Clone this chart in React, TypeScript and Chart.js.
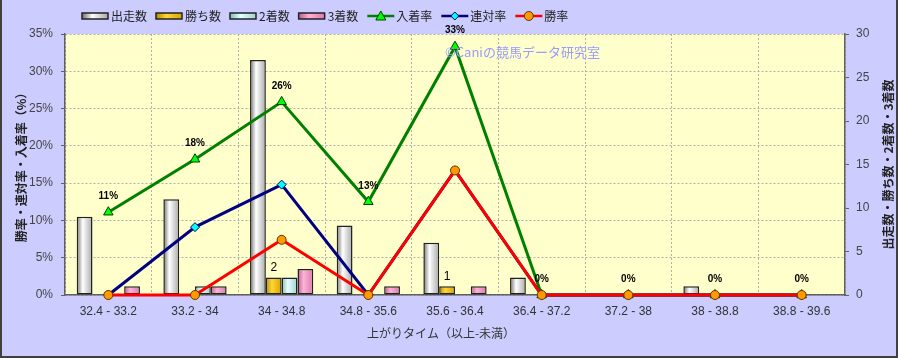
import React, { useEffect, useRef } from "react";
import { Chart, registerables } from "chart.js";

Chart.register(...registerables);

const categories = [
  "32.4 - 33.2",
  "33.2 - 34",
  "34 - 34.8",
  "34.8 - 35.6",
  "35.6 - 36.4",
  "36.4 - 37.2",
  "37.2 - 38",
  "38 - 38.8",
  "38.8 - 39.6",
];
const runners = [9, 11, 27, 8, 6, 2, 0, 1, 0];
const wins = [0, 0, 2, 0, 1, 0, 0, 0, 0];
const seconds = [0, 1, 2, 0, 0, 0, 0, 0, 0];
const thirds = [1, 1, 3, 1, 1, 0, 0, 0, 0];
const placeRate = [11.1, 18.2, 25.9, 12.5, 33.3, 0, 0, 0, 0];
const quinellaRate = [0, 9.1, 14.8, 0, 16.7, 0, 0, 0, 0];
const winRate = [0, 0, 7.4, 0, 16.7, 0, 0, 0, 0];
const leftTicks = [0, 5, 10, 15, 20, 25, 30, 35];
const rightTicks = [0, 5, 10, 15, 20, 25, 30];

const CAT_PCT = 0.73;
const FONT_LAT = "'Liberation Sans', 'Noto Sans CJK JP', sans-serif";
const FONT_JP = "'Noto Sans CJK JP', 'Liberation Sans', sans-serif";

const barStyles = [
  { dark: "#707070", light: "#ffffff", mid: "#a8a8a8", flat: "#dddddd" },
  { dark: "#b88a00", light: "#ffd633", mid: "#d9a400", flat: "#ffcc00" },
  { dark: "#7fb8b8", light: "#e6ffff", mid: "#9fd0d0", flat: "#ccffff" },
  { dark: "#b85c8a", light: "#ffb3d9", mid: "#d97aab", flat: "#ff99cc" },
];

function makeGrad(ctx: any, k: number) {
  const st = barStyles[k];
  const chart = ctx.chart;
  const xs = chart.scales && chart.scales.x;
  if (!xs || ctx.type !== "data" || !xs.width) return st.flat;
  const center = xs.getPixelForValue(ctx.dataIndex);
  const catW = xs.width / categories.length;
  const barW = (catW * CAT_PCT) / 4;
  const left = center - (catW * CAT_PCT) / 2 + k * barW;
  const g = chart.ctx.createLinearGradient(left, 0, left + barW, 0);
  g.addColorStop(0, st.dark);
  g.addColorStop(0.38, st.light);
  g.addColorStop(1, st.mid);
  return g;
}

const nz = (a: number[]) => a.map((v) => (v === 0 ? null : v));

const legendItems = [
  { label: "出走数", type: "bar", k: 0 },
  { label: "勝ち数", type: "bar", k: 1 },
  { label: "2着数", type: "bar", k: 2 },
  { label: "3着数", type: "bar", k: 3 },
  { label: "入着率", type: "line", color: "#008000", fill: "#00ff00", stroke: "#004000", style: "tri" },
  { label: "連対率", type: "line", color: "#000080", fill: "#00ffff", stroke: "#000060", style: "dia" },
  { label: "勝率", type: "line", color: "#ff0000", fill: "#ff9900", stroke: "#663300", style: "circ" },
];

function drawMarker(c: CanvasRenderingContext2D, style: string, x: number, y: number, fill: string, stroke: string) {
  c.save();
  c.fillStyle = fill;
  c.strokeStyle = stroke;
  c.lineWidth = 1;
  c.beginPath();
  if (style === "tri") {
    c.moveTo(x, y - 5);
    c.lineTo(x + 5, y + 4);
    c.lineTo(x - 5, y + 4);
    c.closePath();
  } else if (style === "dia") {
    c.moveTo(x, y - 4);
    c.lineTo(x + 4, y);
    c.lineTo(x, y + 4);
    c.lineTo(x - 4, y);
    c.closePath();
  } else {
    c.arc(x, y, 4.5, 0, Math.PI * 2);
  }
  c.fill();
  c.stroke();
  c.restore();
}

const decorPlugin = {
  id: "decor",
  beforeDraw(chart: any) {
    const c = chart.ctx as CanvasRenderingContext2D;
    const a = chart.chartArea;
    c.save();
    c.fillStyle = "#ccccff";
    c.fillRect(0, 0, chart.width, chart.height);
    c.fillStyle = "#ffffcc";
    c.fillRect(a.left, a.top, a.right - a.left, a.bottom - a.top);
    c.restore();
  },
  afterDraw(chart: any) {
    const c = chart.ctx as CanvasRenderingContext2D;
    const a = chart.chartArea;
    c.save();
    // frame
    c.strokeStyle = "#404040";
    c.lineWidth = 2;
    c.beginPath();
    c.moveTo(1, 0);
    c.lineTo(1, chart.height - 1);
    c.lineTo(chart.width - 1, chart.height - 1);
    c.lineTo(chart.width - 1, 0);
    c.stroke();

    // axis titles
    c.fillStyle = "#222";
    c.font = `bold 12px ${FONT_JP}`;
    c.textAlign = "center";
    c.textBaseline = "middle";
    c.save();
    c.translate(21, (a.top + a.bottom) / 2);
    c.rotate(-Math.PI / 2);
    c.fillText("勝率・連対率・入着率（%）", 0, 0);
    c.restore();
    c.save();
    c.translate(888, (a.top + a.bottom) / 2);
    c.rotate(-Math.PI / 2);
    c.fillText("出走数・勝ち数・2着数・3着数", 0, 0);
    c.restore();
    c.font = `12px ${FONT_JP}`;
    c.fillStyle = "#333";
    c.fillText("上がりタイム（以上-未満）", 441, 333);

    // watermark
    c.font = `13px ${FONT_JP}`;
    c.fillStyle = "#9a9aff";
    c.textAlign = "left";
    c.fillText("©Caniの競馬データ研究室", 445, 52);

    // legend
    let x = 82;
    const y = 16;
    c.font = `12px ${FONT_JP}`;
    for (const it of legendItems as any[]) {
      if (it.type === "bar") {
        const st = barStyles[it.k];
        const g = c.createLinearGradient(x, 0, x + 26, 0);
        g.addColorStop(0, st.dark);
        g.addColorStop(0.4, st.light);
        g.addColorStop(1, st.mid);
        c.fillStyle = g;
        c.fillRect(x, y - 3, 26, 6);
        c.strokeStyle = "#222";
        c.lineWidth = 1.5;
        c.strokeRect(x, y - 3, 26, 6);
      } else {
        c.strokeStyle = it.color;
        c.lineWidth = 2.5;
        c.beginPath();
        c.moveTo(x, y);
        c.lineTo(x + 27, y);
        c.stroke();
        drawMarker(c, it.style, x + 13.5, y, it.fill, it.stroke);
      }
      x += 29;
      c.fillStyle = "#222";
      c.textAlign = "left";
      c.fillText(it.label, x, y);
      x += c.measureText(it.label).width + 9;
    }

    // data labels: 入着率
    const metaP = chart.getDatasetMeta(4);
    c.font = `bold 10px ${FONT_LAT}`;
    c.fillStyle = "#000";
    c.textAlign = "center";
    metaP.data.forEach((pt: any, i: number) => {
      c.fillText(Math.round(placeRate[i]) + "%", pt.x, pt.y - 16);
    });
    // data labels: 勝ち数
    const metaW = chart.getDatasetMeta(1);
    c.font = `12px ${FONT_LAT}`;
    metaW.data.forEach((el: any, i: number) => {
      if (wins[i] > 0) c.fillText(String(wins[i]), el.x, el.y - 10);
    });
    c.restore();
  },
};

export default function App() {
  const ref = useRef<HTMLCanvasElement>(null);
  useEffect(() => {
    document.body.style.margin = "0";
    const canvas = ref.current!;
    const barCommon = {
      type: "bar" as const,
      yAxisID: "y1",
      borderColor: "#222",
      borderWidth: 1.5,
      borderSkipped: false,
      barPercentage: 1,
      categoryPercentage: CAT_PCT,
      order: 10,
    };
    const lineCommon = {
      type: "line" as const,
      yAxisID: "y",
      borderWidth: 3,
      tension: 0,
      clip: false as any,
      pointBorderWidth: 1,
    };
    const chart = new Chart(canvas, {
      data: {
        labels: categories,
        datasets: [
          { ...barCommon, label: "出走数", data: nz(runners), backgroundColor: (ctx: any) => makeGrad(ctx, 0) },
          { ...barCommon, label: "勝ち数", data: nz(wins), backgroundColor: (ctx: any) => makeGrad(ctx, 1) },
          { ...barCommon, label: "2着数", data: nz(seconds), backgroundColor: (ctx: any) => makeGrad(ctx, 2) },
          { ...barCommon, label: "3着数", data: nz(thirds), backgroundColor: (ctx: any) => makeGrad(ctx, 3) },
          {
            ...lineCommon,
            label: "入着率",
            data: placeRate,
            borderColor: "#008000",
            pointStyle: "triangle",
            pointRadius: 5.5,
            pointBackgroundColor: "#00ff00",
            pointBorderColor: "#004000",
            order: 3,
          },
          {
            ...lineCommon,
            label: "連対率",
            data: quinellaRate,
            borderColor: "#000080",
            pointStyle: "rectRot",
            pointRadius: 4.5,
            pointBackgroundColor: "#00ffff",
            pointBorderColor: "#000060",
            order: 2,
          },
          {
            ...lineCommon,
            label: "勝率",
            data: winRate,
            borderColor: "#ff0000",
            pointStyle: "circle",
            pointRadius: 4.5,
            pointBackgroundColor: "#ff9900",
            pointBorderColor: "#663300",
            order: 1,
          },
        ],
      } as any,
      options: {
        responsive: false,
        animation: false,
        devicePixelRatio: 1,
        layout: { padding: { top: 34, left: 0, right: 0, bottom: 0 } },
        plugins: { legend: { display: false }, tooltip: { enabled: false } },
        scales: {
          x: {
            offset: true,
            grid: { display: true, offset: true, color: "#b0b0b0", drawTicks: false, lineWidth: 1 },
            border: { display: true, color: "#606060", width: 1.5, dash: [2, 2] },
            ticks: {
              color: "#333",
              font: { family: FONT_LAT, size: 12 },
              padding: 9,
              maxRotation: 0,
              autoSkip: false,
            },
            afterFit: (s: any) => {
              s.height = 63;
            },
          },
          y: {
            position: "left",
            min: 0,
            max: 35,
            afterBuildTicks: (s: any) => {
              s.ticks = leftTicks.map((v) => ({ value: v }));
            },
            grid: { color: "#b0b0b0", tickLength: 4, tickColor: "#606060", tickBorderDash: [] as any },
            border: { display: true, color: "#606060", width: 1.5, dash: [2, 2] },
            ticks: {
              color: "#444",
              font: { family: FONT_LAT, size: 12 },
              padding: 8,
              callback: (v: any) => v + "%",
            },
            afterFit: (s: any) => {
              s.width = 65;
            },
          },
          y1: {
            position: "right",
            min: 0,
            max: 30,
            afterBuildTicks: (s: any) => {
              s.ticks = rightTicks.map((v) => ({ value: v }));
            },
            grid: { drawOnChartArea: false, tickLength: 4, tickColor: "#606060" },
            border: { display: true, color: "#606060", width: 1.5 },
            ticks: {
              color: "#444",
              font: { family: FONT_LAT, size: 12 },
              padding: 7,
            },
            afterFit: (s: any) => {
              s.width = 53;
            },
          },
        },
      } as any,
      plugins: [decorPlugin],
    });
    return () => chart.destroy();
  }, []);
  return (
    <div style={{ width: 898, height: 358 }}>
      <canvas ref={ref} width={898} height={358} style={{ display: "block" }} />
    </div>
  );
}
